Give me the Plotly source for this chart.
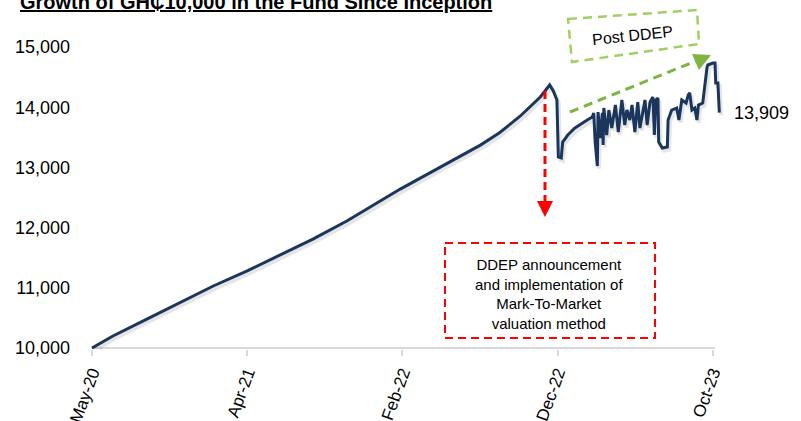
import plotly.graph_objects as go

# ---------------- data ----------------
# x = trading-day index since inception, y = value of GH₵10,000
day_index = [0, 29, 76, 122, 168, 215, 260, 306, 353, 399, 427, 468, 510, 538, 565, 593, 621,
             634, 639, 641, 643, 644, 646, 650, 652, 659, 669, 679, 686, 693, 695, 697, 700,
             701, 704, 707, 708, 709, 713, 716, 720, 725, 729, 734, 738, 741, 745, 748, 752,
             756, 759, 766, 769, 773, 777, 779, 781, 784, 785, 790, 797, 798, 803, 810, 813,
             817, 823, 826, 828, 831, 835, 838, 840, 846, 849, 852, 853, 860, 863, 864, 867, 869]
fund_value = [10000, 10200, 10480, 10760, 11030, 11280, 11540, 11810, 12110, 12440, 12640, 12910,
              13180, 13370, 13580, 13850, 14170,
              14369, 14269, 14203, 14136, 14120, 13173, 13156, 13422, 13538, 13654, 13738, 13787,
              13837, 13904, 13422, 13023, 13920, 13488, 13904, 13372, 13987, 13538, 13953, 13654,
              14036, 13588, 14120, 13704, 13953, 13787, 14036, 13588, 14086, 13654, 14120, 13704,
              14086, 14169, 13538, 14120, 14153, 13422, 13322, 13339, 13787, 13953, 13987, 13787,
              14120, 14070, 14203, 14236, 13953, 13987, 13787, 14036, 14070, 14402, 14668, 14701,
              14734, 14734, 14402, 14402, 13909]

tick_days = [0, 215, 430, 645, 860]
tick_labels = ["May-20", "Apr-21", "Feb-22", "Dec-22", "Oct-23"]
y_ticks = [10000, 11000, 12000, 13000, 14000, 15000]
y_tick_labels = ["10,000", "11,000", "12,000", "13,000", "14,000", "15,000"]
last_label = "13,909"

title_text = "Growth of GH₵10,000 in the Fund Since Inception"
ddep_text = "DDEP announcement<br>and implementation of<br>Mark-To-Market<br>valuation method"
post_text = "Post DDEP"

# ---------------- layout geometry ----------------
W, H = 801, 421
L, R, T, B = 75, 5, 0, 72
X0_PX, Y0_PX = 92, 348          # pixel of day 0 / value 10,000
DAY_PX = 0.7219                 # px per trading day
VAL_PX = 0.0602                 # px per GH₵
plot_w = W - L - R
plot_h = H - T - B
x_min = -(X0_PX - L) / DAY_PX
x_max = x_min + plot_w / DAY_PX
y_min = 10000 - (H - B - Y0_PX) / VAL_PX
y_max = y_min + plot_h / VAL_PX


def dx(px):
    return (px - X0_PX) / DAY_PX


def dy(py):
    return 10000 + (Y0_PX - py) / VAL_PX


NAVY = "#1b365d"
RED = "#ff0000"
GREEN_BOX = "#9fd066"
GREEN_ARROW = "#7cb544"
FONT = "Liberation Sans, Arial, sans-serif"

fig = go.Figure()

# soft shadow under the line
fig.add_trace(go.Scatter(
    x=[d + 2.5 for d in day_index], y=[v - 45 for v in fund_value],
    mode="lines", line=dict(color="rgba(0,0,0,0.10)", width=4),
    hoverinfo="skip", showlegend=False, cliponaxis=False))

fig.add_trace(go.Scatter(
    x=day_index, y=fund_value, mode="lines",
    line=dict(color=NAVY, width=3), showlegend=False, cliponaxis=False))

shapes = []
# x axis line
shapes.append(dict(type="line", xref="x", yref="y", x0=0, x1=dx(715), y0=10000, y1=10000,
                   line=dict(color="#d9d9d9", width=2), layer="below"))
# red dashed vertical arrow
shapes.append(dict(type="line", xref="x", yref="y", x0=dx(545), x1=dx(545), y0=dy(91), y1=dy(201),
                   line=dict(color=RED, width=3, dash="8px,5px")))
shapes.append(dict(type="path", xref="x", yref="y",
                   path=f"M {dx(537)} {dy(201)} L {dx(553)} {dy(201)} L {dx(545)} {dy(217)} Z",
                   fillcolor=RED, line=dict(color=RED, width=0)))
# red dashed box
shapes.append(dict(type="rect", xref="x", yref="y", x0=dx(445), x1=dx(655), y0=dy(243), y1=dy(338),
                   line=dict(color=RED, width=2, dash="8px,5px")))
# green dashed (slightly tilted) box
shapes.append(dict(type="path", xref="x", yref="y",
                   path=(f"M {dx(568)} {dy(19)} L {dx(697)} {dy(10)} L {dx(699)} {dy(44)} "
                         f"L {dx(572)} {dy(62)} Z"),
                   line=dict(color=GREEN_BOX, width=2.5, dash="9px,6px")))
# green dashed arrow
shapes.append(dict(type="line", xref="x", yref="y", x0=dx(570), x1=dx(696), y0=dy(112), y1=dy(61),
                   line=dict(color=GREEN_ARROW, width=3, dash="9px,6px")))
shapes.append(dict(type="path", xref="x", yref="y",
                   path=f"M {dx(711)} {dy(55)} L {dx(692)} {dy(54)} L {dx(699)} {dy(70)} Z",
                   fillcolor=GREEN_ARROW, line=dict(color=GREEN_ARROW, width=0)))

annotations = [
    dict(text=f"<b><u>{title_text}</u></b>", xref="paper", yref="paper",
         x=(494 - L) / plot_w, y=1 - (15 - T) / plot_h, xanchor="right", yanchor="bottom",
         showarrow=False, font=dict(family=FONT, size=20, color="#000")),
    dict(text=ddep_text, xref="x", yref="y", x=dx(549), y=dy(294), showarrow=False,
         xanchor="center", yanchor="middle", align="center",
         font=dict(family=FONT, size=15, color="#000")),
    dict(text=post_text, xref="x", yref="y", x=dx(632), y=dy(35), showarrow=False,
         textangle=-6, xanchor="center", yanchor="middle",
         font=dict(family=FONT, size=16, color="#000")),
    dict(text=last_label, xref="x", yref="y", x=dx(732), y=fund_value[-1], showarrow=False,
         xanchor="left", yanchor="middle", font=dict(family=FONT, size=18, color="#000")),
]

fig.update_layout(
    width=W, height=H,
    margin=dict(l=L, r=R, t=T, b=B, pad=0, autoexpand=False),
    paper_bgcolor="white", plot_bgcolor="white",
    shapes=shapes, annotations=annotations,
    xaxis=dict(range=[x_min, x_max], tickmode="array", tickvals=tick_days, ticktext=tick_labels,
               tickangle=-70, ticks="outside", ticklen=6, tickwidth=2, tickcolor="#d9d9d9",
               showgrid=False, zeroline=False, showline=False, automargin=False,
               tickfont=dict(family=FONT, size=17, color="#000")),
    yaxis=dict(range=[y_min, y_max], tickmode="array", tickvals=y_ticks, ticktext=y_tick_labels,
               showgrid=False, zeroline=False, showline=False, ticks="", automargin=False,
               ticklabelstandoff=4,
               tickfont=dict(family=FONT, size=18, color="#000")),
    font=dict(family=FONT),
)

fig.write_html("out.html", config={"displayModeBar": False},
               post_script="document.body.style.margin='0';document.body.style.padding='0';")
